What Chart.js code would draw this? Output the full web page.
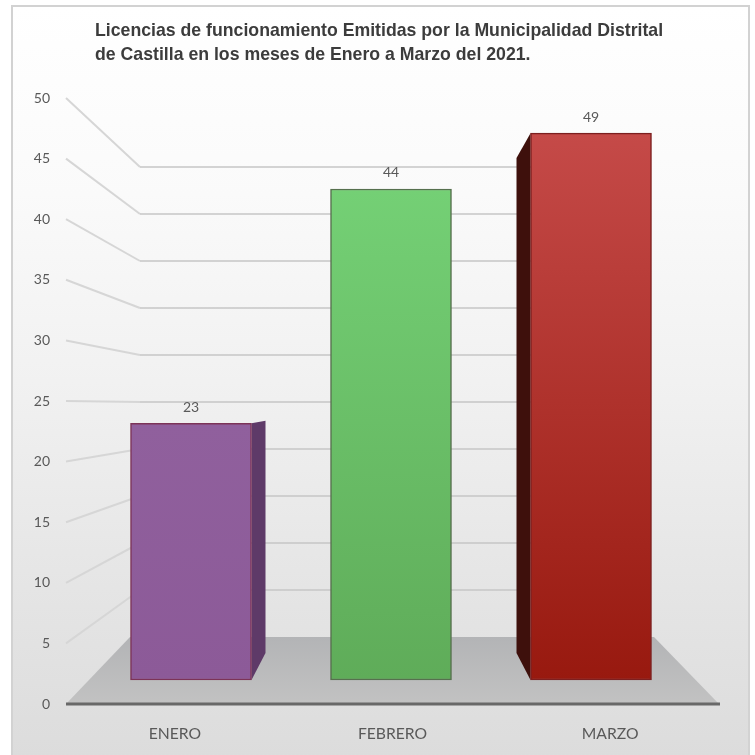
<!DOCTYPE html>
<html lang="es">
<head>
<meta charset="utf-8">
<title>Licencias de funcionamiento</title>
<script src="https://cdn.jsdelivr.net/npm/chart.js@4/dist/chart.umd.min.js"></script>
<style>
  html, body { margin: 0; padding: 0; background: #fff; overflow: hidden; }
  #marco {
    position: absolute; left: 11px; top: 5px; width: 735px; height: 750px;
    border: 2px solid #d2d2d2; border-bottom: none;
    background: linear-gradient(180deg, #ffffff 0%, #fafafa 25%, #f1f1f1 50%, #e6e6e6 75%, #dcdcdc 100%);
  }
  #titulo {
    position: absolute; left: 95px; top: 18px;
    font: bold 17.7px/24px "Liberation Sans", Arial, sans-serif; color: #3c3c3c;
    white-space: nowrap;
  }
  canvas { position: absolute; left: 0; top: 0; }
</style>
</head>
<body>
<div id="marco"></div>
<canvas id="chartLicencias" width="755" height="755"></canvas>
<div id="titulo">Licencias de funcionamiento Emitidas por la Municipalidad Distrital<br>de Castilla en los meses de Enero a Marzo del 2021.</div>

<script>
const meses = ["ENERO", "FEBRERO", "MARZO"];
const licencias = [23, 44, 49];
const ticksY = [0, 5, 10, 15, 20, 25, 30, 35, 40, 45, 50];

const coloresArriba = ["#90609d", "#74d075", "#c54a48"];
const coloresAbajo = ["#8c5a98", "#5fac59", "#98190f"];
const coloresBorde = ["#7c3358", "#56704e", "#7d1f1f"];
const coloresLado = ["#5e3a68", "#3f6a40", "#3e100c"];

const AREA_TOP = 98, AREA_BOTTOM = 704;

// fake 3D: each plane is its own hidden scale, given by where 0 falls and px per unit
function rango(cero, pxPorUnidad) {
    return { min: (cero - AREA_BOTTOM) / pxPorUnidad, max: (cero - AREA_TOP) / pxPorUnidad };
}

const plano3d = {
    id: "plano3d",
    beforeDatasetsDraw(chart) {
        const { ctx, chartArea, scales } = chart;
        const xPared = chartArea.left + 74;
        const xFin = chartArea.left + 580;

        // floor
        ctx.save();
        const grad = ctx.createLinearGradient(0, scales.yPared.getPixelForValue(0), 0, scales.y.getPixelForValue(0));
        grad.addColorStop(0, "#b3b4b6");
        grad.addColorStop(1, "#c2c2c2");
        ctx.fillStyle = grad;
        ctx.beginPath();
        ctx.moveTo(chartArea.left, scales.y.getPixelForValue(0));
        ctx.lineTo(xPared - 10, scales.yPared.getPixelForValue(0));
        ctx.lineTo(chartArea.left + 588, scales.yPared.getPixelForValue(0));
        ctx.lineTo(chartArea.right, scales.y.getPixelForValue(0));
        ctx.closePath();
        ctx.fill();

        // gridlines: slanted part on the side wall, then flat on the back wall
        ticksY.forEach(v => {
            if (v === 0) return;
            const yLado = scales.y.getPixelForValue(v);
            const yFondo = scales.yPared.getPixelForValue(v);
            ctx.strokeStyle = "#d6d6d6";
            ctx.lineWidth = 2;
            ctx.beginPath();
            ctx.moveTo(chartArea.left, yLado);
            ctx.lineTo(xPared, yFondo);
            ctx.stroke();
            ctx.strokeStyle = "#c6c6c6";
            ctx.lineWidth = 1.5;
            ctx.beginPath();
            ctx.moveTo(xPared, yFondo);
            ctx.lineTo(xFin, yFondo);
            ctx.stroke();
        });

        // axis line
        ctx.strokeStyle = "#686868";
        ctx.lineWidth = 3;
        ctx.beginPath();
        ctx.moveTo(chartArea.left, scales.y.getPixelForValue(0));
        ctx.lineTo(chartArea.right + 1, scales.y.getPixelForValue(0));
        ctx.stroke();

        // side face of the outer bars, turned towards the middle
        chart.getDatasetMeta(0).data.forEach((bar, i) => {
            const dir = 1 - i;
            if (dir === 0) return;
            const xFrente = bar.x + dir * bar.width / 2;
            const xAtras = xFrente + dir * 14;
            ctx.fillStyle = coloresLado[i];
            ctx.beginPath();
            ctx.moveTo(xFrente, bar.y);
            ctx.lineTo(xAtras, scales.yFondo.getPixelForValue(licencias[i]));
            ctx.lineTo(xAtras, scales.yFondo.getPixelForValue(0));
            ctx.lineTo(xFrente, bar.base);
            ctx.closePath();
            ctx.fill();
        });
        ctx.restore();
    },
    afterDatasetsDraw(chart) {
        const { ctx } = chart;
        ctx.save();
        ctx.font = "14px Lato, sans-serif";
        ctx.fillStyle = "#595959";
        ctx.textAlign = "center";
        ctx.textBaseline = "middle";
        chart.getDatasetMeta(0).data.forEach((bar, i) => {
            ctx.fillText(String(licencias[i]), bar.x, bar.y - 16);
        });
        ctx.restore();
    }
};

new Chart(document.getElementById("chartLicencias"), {
    type: "bar",
    data: {
        labels: meses,
        datasets: [{
            data: licencias.map((v, i) => ({ x: i, y: v })),
            xAxisID: "xBarras",
            yAxisID: "yBarras",
            barThickness: 121,
            borderWidth: 1.5,
            borderSkipped: false,
            borderColor: coloresBorde,
            backgroundColor(c) {
                const i = c.dataIndex || 0;
                const s = c.chart.scales.yBarras;
                const y0 = s ? s.getPixelForValue(licencias[i]) : NaN;
                const y1 = s ? s.getPixelForValue(0) : NaN;
                // scales have no pixels yet on the first pass
                if (!Number.isFinite(y0) || !Number.isFinite(y1)) return coloresArriba[i];
                const g = c.chart.ctx.createLinearGradient(0, y0, 0, y1);
                g.addColorStop(0, coloresArriba[i]);
                g.addColorStop(1, coloresAbajo[i]);
                return g;
            }
        }]
    },
    options: {
        responsive: false,
        animation: false,
        layout: { padding: { top: AREA_TOP, right: 36, bottom: 0, left: 0 } },
        plugins: { legend: { display: false }, tooltip: { enabled: false } },
        scales: {
            x: {
                type: "category",
                grid: { display: false },
                border: { display: false },
                ticks: { color: "#595959", font: { family: "Lato", size: 15.7 }, padding: 13, maxRotation: 0 },
                afterFit(s) { s.height = 51; }
            },
            y: {
                min: 0,
                max: 50,
                grid: { display: false, drawTicks: false },
                border: { display: false },
                ticks: { stepSize: 5, color: "#595959", font: { family: "Lato", size: 14 }, padding: 16 },
                afterFit(s) { s.width = 66; }
            },
            xBarras: { type: "linear", display: false, position: "bottom", offset: false, min: -0.625, max: 2.64 },
            yBarras: { type: "linear", display: false, ...rango(680, 11.16) },
            yPared: { type: "linear", display: false, ...rango(637, 9.4) },
            yFondo: { type: "linear", display: false, ...rango(653, 10.1) }
        }
    },
    plugins: [plano3d]
});
</script>
</body>
</html>
